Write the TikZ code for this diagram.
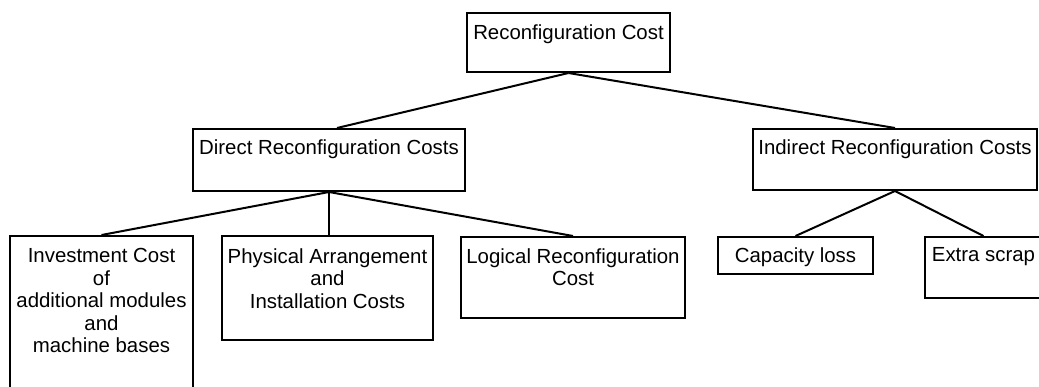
\documentclass[tikz,border=0pt]{standalone}
\usepackage{fontspec}
\setmainfont{Liberation Sans}
\usetikzlibrary{fit,positioning}
\begin{document}
\begin{tikzpicture}[x=0.5pt,y=-0.5pt,
  box/.style={draw=black, line width=1pt, inner sep=0pt, fit={#1}},
  txt/.style={inner sep=0pt, align=center, font=\fontsize{10.2}{11.25}\selectfont},
  conn/.style={draw=black, line width=1pt}]
\useasboundingbox (0,0) rectangle (1039,386);
\clip (0,0) rectangle (1039,386);
\node[box={(467,13)(670,72)}] (top) {};
\node[box={(193,129)(465,191)}] (direct) {};
\node[box={(753,129)(1037,190)}] (indirect) {};
\node[box={(10,236)(193,400)}] (invest) {};
\node[box={(222,236)(433,340)}] (phys) {};
\node[box={(461,237)(685,318)}] (logic) {};
\node[box={(718,237)(873,274)}] (cap) {};
\node[box={(925,237)(1042,298)}] (extra) {};

\node[txt, below=6pt of top.north] (ttop) {Reconfiguration Cost};
\node[txt, below=5.5pt of direct.north] (tdirect) {Direct Reconfiguration Costs};
\node[txt, below=5.5pt of indirect.north] (tindirect) {Indirect Reconfiguration Costs};
\node[txt, below=6.5pt of invest.north] (tinvest) {Investment Cost\\of\\additional modules\\and\\machine bases};
\node[txt, below=6.5pt of phys.north] (tphys) {Physical Arrangement\\and\\Installation Costs};
\node[txt, below=6pt of logic.north] (tlogic) {Logical Reconfiguration\\Cost};
\node[txt, below=5.5pt of cap.north] (tcap) {Capacity loss};
\node[txt, below=5.5pt of extra.north] (textra) {Extra scrap};

\draw[conn] (top.south) -- ([xshift=4pt]direct.north);
\draw[conn] (top.south) -- (indirect.north);
\draw[conn] (direct.south) -- (invest.north);
\draw[conn] (direct.south) -- (direct.south |- phys.north);
\draw[conn] (direct.south) -- (logic.north);
\draw[conn] (indirect.south) -- (cap.north);
\draw[conn] (indirect.south) -- (extra.north);
\end{tikzpicture}
\end{document}
